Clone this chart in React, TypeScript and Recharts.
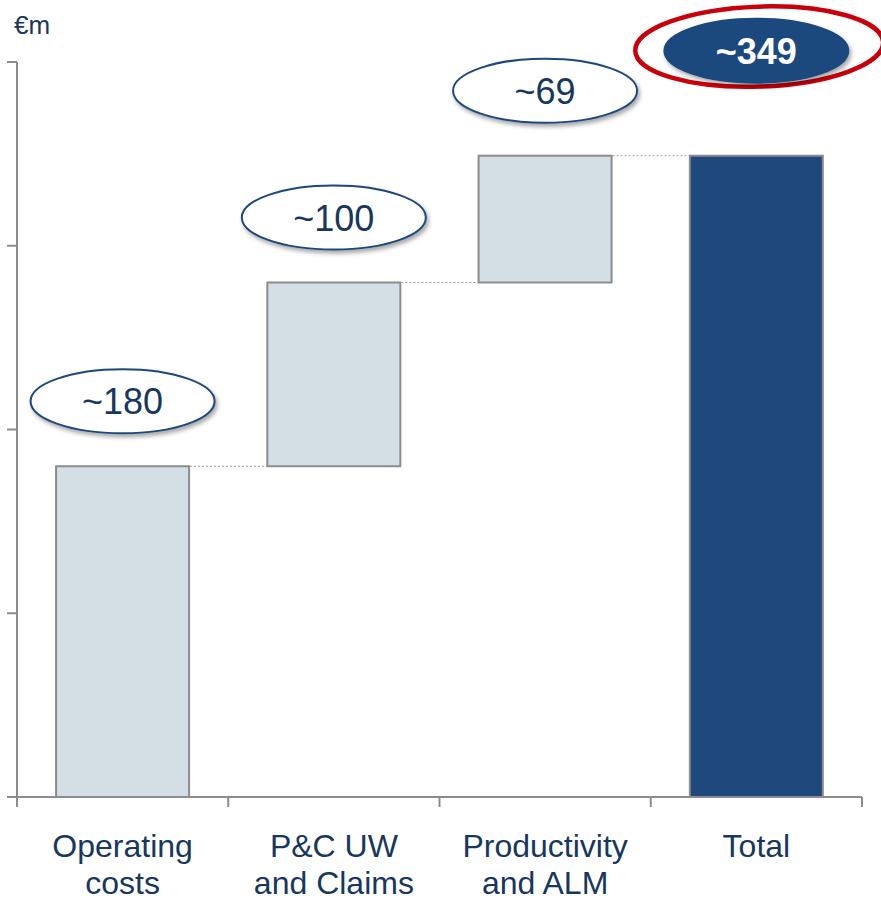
import { Bar, BarChart, LabelList, XAxis, YAxis } from "recharts";

const categories = ["Operating costs", "P&C UW and Claims", "Productivity and ALM", "Total"];
const labelLines = [["Operating", "costs"], ["P&C UW", "and Claims"], ["Productivity", "and ALM"], ["Total"]];
const bases = [0, 180, 280, 0];
const values = [180, 100, 69, 349];
const bubbleLabels = ["~180", "~100", "~69", "~349"];
const yTicks = [0, 100, 200, 300, 400];

const rows = categories.map((name, i) => ({
  name,
  base: bases[i],
  value: values[i],
  bubble: bubbleLabels[i],
}));

const W = 881;
const H = 900;
const margin = { top: 62, right: 19, left: 0, bottom: 0 };
const Y_AXIS_W = 17;
const X_AXIS_H = 103;
const band = (W - Y_AXIS_W - margin.right) / categories.length;
const FONT = "'Liberation Sans', Arial, sans-serif";
const NAVY = "#1F497D";
const TEXT = "#17375E";
const GREY = "#8C8C8C";
const lastIndex = categories.length - 1;

function WaterfallBar(props: any) {
  const { x, y, width, height, index } = props;
  const isTotal = index === lastIndex;
  return (
    <g>
      <rect
        x={x}
        y={y}
        width={width}
        height={height}
        fill={isTotal ? NAVY : "#D3DFE5"}
        stroke={GREY}
        strokeWidth={2}
      />
      {index < lastIndex && (
        <line
          x1={x + width + 1}
          x2={x + band - 1}
          y1={y}
          y2={y}
          stroke="#9A9A9A"
          strokeWidth={1}
          strokeDasharray="2 2"
        />
      )}
    </g>
  );
}

function Bubble(props: any) {
  const { x, y, width, value, index } = props;
  const isTotal = index === lastIndex;
  const cx = x + width / 2;
  const cy = isTotal ? y - 105 : y - 65;
  return (
    <g>
      {isTotal && (
        <ellipse
          cx={cx + 3}
          cy={cy - 4}
          rx={124}
          ry={40}
          fill="none"
          stroke="#C8000A"
          strokeWidth={4.5}
          transform={`rotate(-2 ${cx} ${cy})`}
        />
      )}
      <ellipse
        cx={cx}
        cy={cy}
        rx={92}
        ry={32}
        fill={isTotal ? NAVY : "#FFFFFF"}
        stroke={NAVY}
        strokeWidth={2}
        filter="url(#bubbleShadow)"
      />
      <text
        x={cx}
        y={cy + 13}
        textAnchor="middle"
        fontFamily={FONT}
        fontSize={36}
        fontWeight={isTotal ? "bold" : "normal"}
        fill={isTotal ? "#FFFFFF" : TEXT}
      >
        {value}
      </text>
    </g>
  );
}

// category label plus the boundary tick marks between categories
function CategoryTick(props: any) {
  const { x, y, index } = props;
  const lines = labelLines[index] || [];
  const left = x - band / 2;
  const right = x + band / 2;
  return (
    <g>
      <line x1={left} x2={left} y1={y} y2={y + 10} stroke={GREY} strokeWidth={2} />
      {index === lastIndex && (
        <line x1={right} x2={right} y1={y} y2={y + 10} stroke={GREY} strokeWidth={2} />
      )}
      {lines.map((line, i) => (
        <text
          key={i}
          x={x}
          y={y + 60 + i * 37}
          textAnchor="middle"
          fontFamily={FONT}
          fontSize={32}
          fill={TEXT}
        >
          {line}
        </text>
      ))}
    </g>
  );
}

const emptyTick = () => <g />;

export default function App() {
  return (
    <div style={{ position: "absolute", left: 0, top: 0, width: W, height: H, background: "#fff" }}>
      <svg width={0} height={0} style={{ position: "absolute" }}>
        <defs>
          <filter id="bubbleShadow" x="-20%" y="-30%" width="140%" height="170%">
            <feDropShadow dx={2} dy={3} stdDeviation={2} floodColor="#000" floodOpacity={0.35} />
          </filter>
        </defs>
      </svg>
      <div
        style={{
          position: "absolute",
          left: 14,
          top: 10,
          fontFamily: FONT,
          fontSize: 26,
          color: TEXT,
        }}
      >
        €m
      </div>
      <BarChart width={W} height={H} data={rows} margin={margin} barCategoryGap="18.5%">
        <XAxis
          dataKey="name"
          height={X_AXIS_H}
          stroke={GREY}
          strokeWidth={2}
          tickLine={false}
          tickSize={0}
          tickMargin={0}
          interval={0}
          tick={<CategoryTick />}
        />
        <YAxis
          width={Y_AXIS_W}
          domain={[0, 400]}
          ticks={yTicks}
          tickSize={10}
          tick={emptyTick}
          stroke={GREY}
          strokeWidth={2}
        />
        <Bar dataKey="base" stackId="w" fill="transparent" isAnimationActive={false} />
        <Bar dataKey="value" stackId="w" shape={WaterfallBar} isAnimationActive={false}>
          <LabelList dataKey="bubble" content={Bubble} />
        </Bar>
      </BarChart>
    </div>
  );
}
